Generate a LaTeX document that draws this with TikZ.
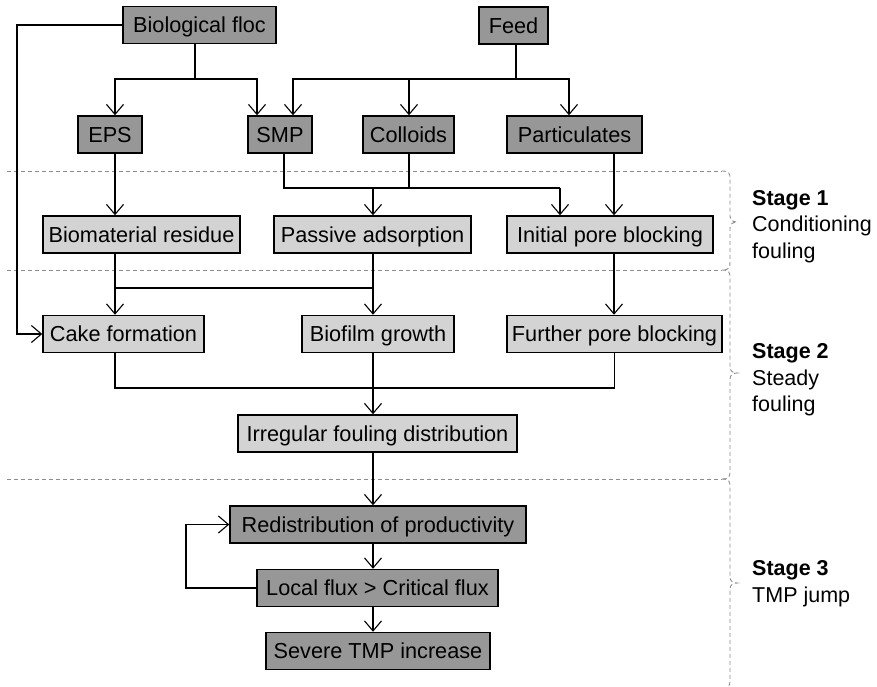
\documentclass[tikz,border=0pt]{standalone}
\usepackage{fontspec}
\setmainfont{Liberation Sans}
\usetikzlibrary{arrows.meta}
\definecolor{darkbox}{HTML}{979797}
\definecolor{lightbox}{HTML}{D3D3D3}
\definecolor{dashgray}{HTML}{8C8C8C}
\begin{document}
\begin{tikzpicture}[x=1pt,y=-1pt,
  box/.style={draw=black,line width=1.5pt,minimum height=37pt,inner sep=0pt,text height=15.5pt,text depth=0pt,font=\fontsize{21.7}{26}\selectfont},
  dbox/.style={box,fill=darkbox},
  lbox/.style={box,fill=lightbox},
  conn/.style={line width=1.1pt},
  arr/.style={conn,-{Straight Barb[length=10pt,width=17pt,line width=1.1pt]}},
  stagedash/.style={dashgray,line width=0.9pt,dash pattern=on 4pt off 3pt},
  stagetext/.style={anchor=west,align=left,inner sep=0pt,font=\fontsize{21.5}{26.5}\selectfont}
]
\useasboundingbox (0,0) rectangle (877,686);
% nodes
\node[dbox,minimum width=153pt] (bf) at (199.5,25) {Biological floc};
\node[dbox,minimum width=69pt] (feed) at (513.5,25.5) {Feed};
\node[dbox,minimum width=64pt] (eps) at (110,134.5) {EPS};
\node[dbox,minimum width=64pt] (smp) at (280,134.5) {SMP};
\node[dbox,minimum width=91pt] (col) at (408.5,134.5) {Colloids};
\node[dbox,minimum width=135pt] (part) at (574.5,134.5) {Particulates};
\node[lbox,minimum width=197pt] (bio) at (141.5,234.5) {Biomaterial residue};
\node[lbox,minimum width=197pt] (pas) at (372.5,234.5) {Passive adsorption};
\node[lbox,minimum width=206pt] (ipb) at (610,234.5) {Initial pore blocking};
\node[lbox,minimum width=161pt] (cake) at (123.5,334) {Cake formation};
\node[lbox,minimum width=152pt] (biof) at (378,334) {Biofilm growth};
\node[lbox,minimum width=215pt] (fpb) at (614.5,334) {Further pore blocking};
\node[lbox,minimum width=279pt] (irr) at (377.5,433.5) {Irregular fouling distribution};
\node[dbox,minimum width=296pt] (red) at (378,524.5) {Redistribution of productivity};
\node[dbox,minimum width=241pt] (loc) at (377.5,588) {Local flux > Critical flux};
\node[dbox,minimum width=224pt] (sev) at (378,651) {Severe TMP increase};
% stage labels
\node[stagetext] (s1) at (752,226.5) {\textbf{Stage 1}\\Conditioning\\fouling};
\node[stagetext] (s2) at (752,380) {\textbf{Stage 2}\\Steady\\fouling};
\node[stagetext] (s3) at (752,583.5) {\textbf{Stage 3}\\TMP jump};
% stage separators
\draw[stagedash] (7,171) -- (722,171);
\draw[stagedash] (7,270) -- (722,270);
\draw[stagedash] (7,479) -- (722,479);
\draw[stagedash] (722,171) .. controls (729,171) and (730,173) .. (730,179) -- (730,216) .. controls (730,220) and (733,222) .. (737,222) .. controls (733,222) and (730,224) .. (730,228) -- (730,262) .. controls (730,268) and (729,270) .. (722,270);
\draw[stagedash] (722,270) .. controls (729,270) and (730,272) .. (730,278) -- (730,367) .. controls (730,371) and (733,373) .. (737,373) .. controls (733,373) and (730,375) .. (730,379) -- (730,471) .. controls (730,477) and (729,479) .. (722,479);
\draw[stagedash] (722,479) .. controls (729,479) and (730,481) .. (730,487) -- (730,577) .. controls (730,581) and (733,583) .. (737,583) .. controls (733,583) and (730,585) .. (730,589) -- (730,680) .. controls (730,686) and (729,688) .. (722,688);
% junction coordinates
\coordinate (j1) at (195,79);
\coordinate (j2) at (516,79);
\coordinate (j3) at (560,188);
\coordinate (j4) at (373,188);
\coordinate (j6) at (115,288);
\coordinate (j7) at (373,288);
\coordinate (j8) at (373,388);
\coordinate (lx) at (17,0);
\coordinate (lp) at (186,0);
\coordinate (bfs) at ([xshift=-4.5pt]bf.south);
\coordinate (feeds) at ([xshift=2.5pt]feed.south);
\coordinate (epsn) at ([xshift=5pt]eps.north);
\coordinate (smpn1) at ([xshift=-23pt]smp.north);
\coordinate (smpn2) at ([xshift=13pt]smp.north);
\coordinate (coln) at ([xshift=0.5pt]col.north);
\coordinate (partn) at ([xshift=-5.5pt]part.north);
\coordinate (epss) at ([xshift=5pt]eps.south);
\coordinate (smps) at ([xshift=4pt]smp.south);
\coordinate (cols) at ([xshift=0.5pt]col.south);
\coordinate (parts) at ([xshift=39.5pt]part.south);
\coordinate (bios) at ([xshift=-26.5pt]bio.south);
\coordinate (ipbs) at ([xshift=4pt]ipb.south);
\coordinate (cakes) at ([xshift=-8.5pt]cake.south);
\coordinate (biofs) at ([xshift=-5pt]biof.south);
\coordinate (irrs) at ([xshift=-4.5pt]irr.south);
\coordinate (reds) at ([xshift=-5pt]red.south);
\coordinate (locs) at ([xshift=-4.5pt]loc.south);
% connectors
\draw[conn] (bfs) -- (j1);
\draw[arr] (j1) -| (epsn);
\draw[arr] (j1) -| (smpn1);
\draw[conn] (feeds) -- (j2);
\draw[arr] (j2) -| (smpn2);
\draw[arr] (j2) -| (coln);
\draw[arr] (j2) -| (partn);
\draw[arr] (epss) -- (epss |- bio.north);
\draw[conn] (smps) |- (j3);
\draw[conn] (cols) -- (cols |- j3);
\draw[arr] (j3) -- (j3 |- ipb.north);
\draw[arr] (j4) -- (j4 |- pas.north);
\draw[arr] (parts) -- (parts |- ipb.north);
\draw[conn] (bios) -- (j6) -- (j7);
\draw[conn] (j7 |- pas.south) -- (j7);
\draw[arr] (j6) -- (j6 |- cake.north);
\draw[arr] (j7) -- (j7 |- biof.north);
\draw[arr] (ipbs) -- (ipbs |- fpb.north);
\draw[arr] (bf.west) -- (bf.west -| lx) |- (cake.west);
\draw[conn] (cakes) |- (j8);
\draw[conn] (fpb.south) |- (j8);
\draw[arr] (biofs) -- (biofs |- irr.north);
\draw[arr] (irrs) -- (irrs |- red.north);
\draw[arr] (reds) -- (reds |- loc.north);
\draw[arr] (locs) -- (locs |- sev.north);
\draw[arr] (loc.west) -- (loc.west -| lp) |- (red.west);
\end{tikzpicture}
\end{document}
